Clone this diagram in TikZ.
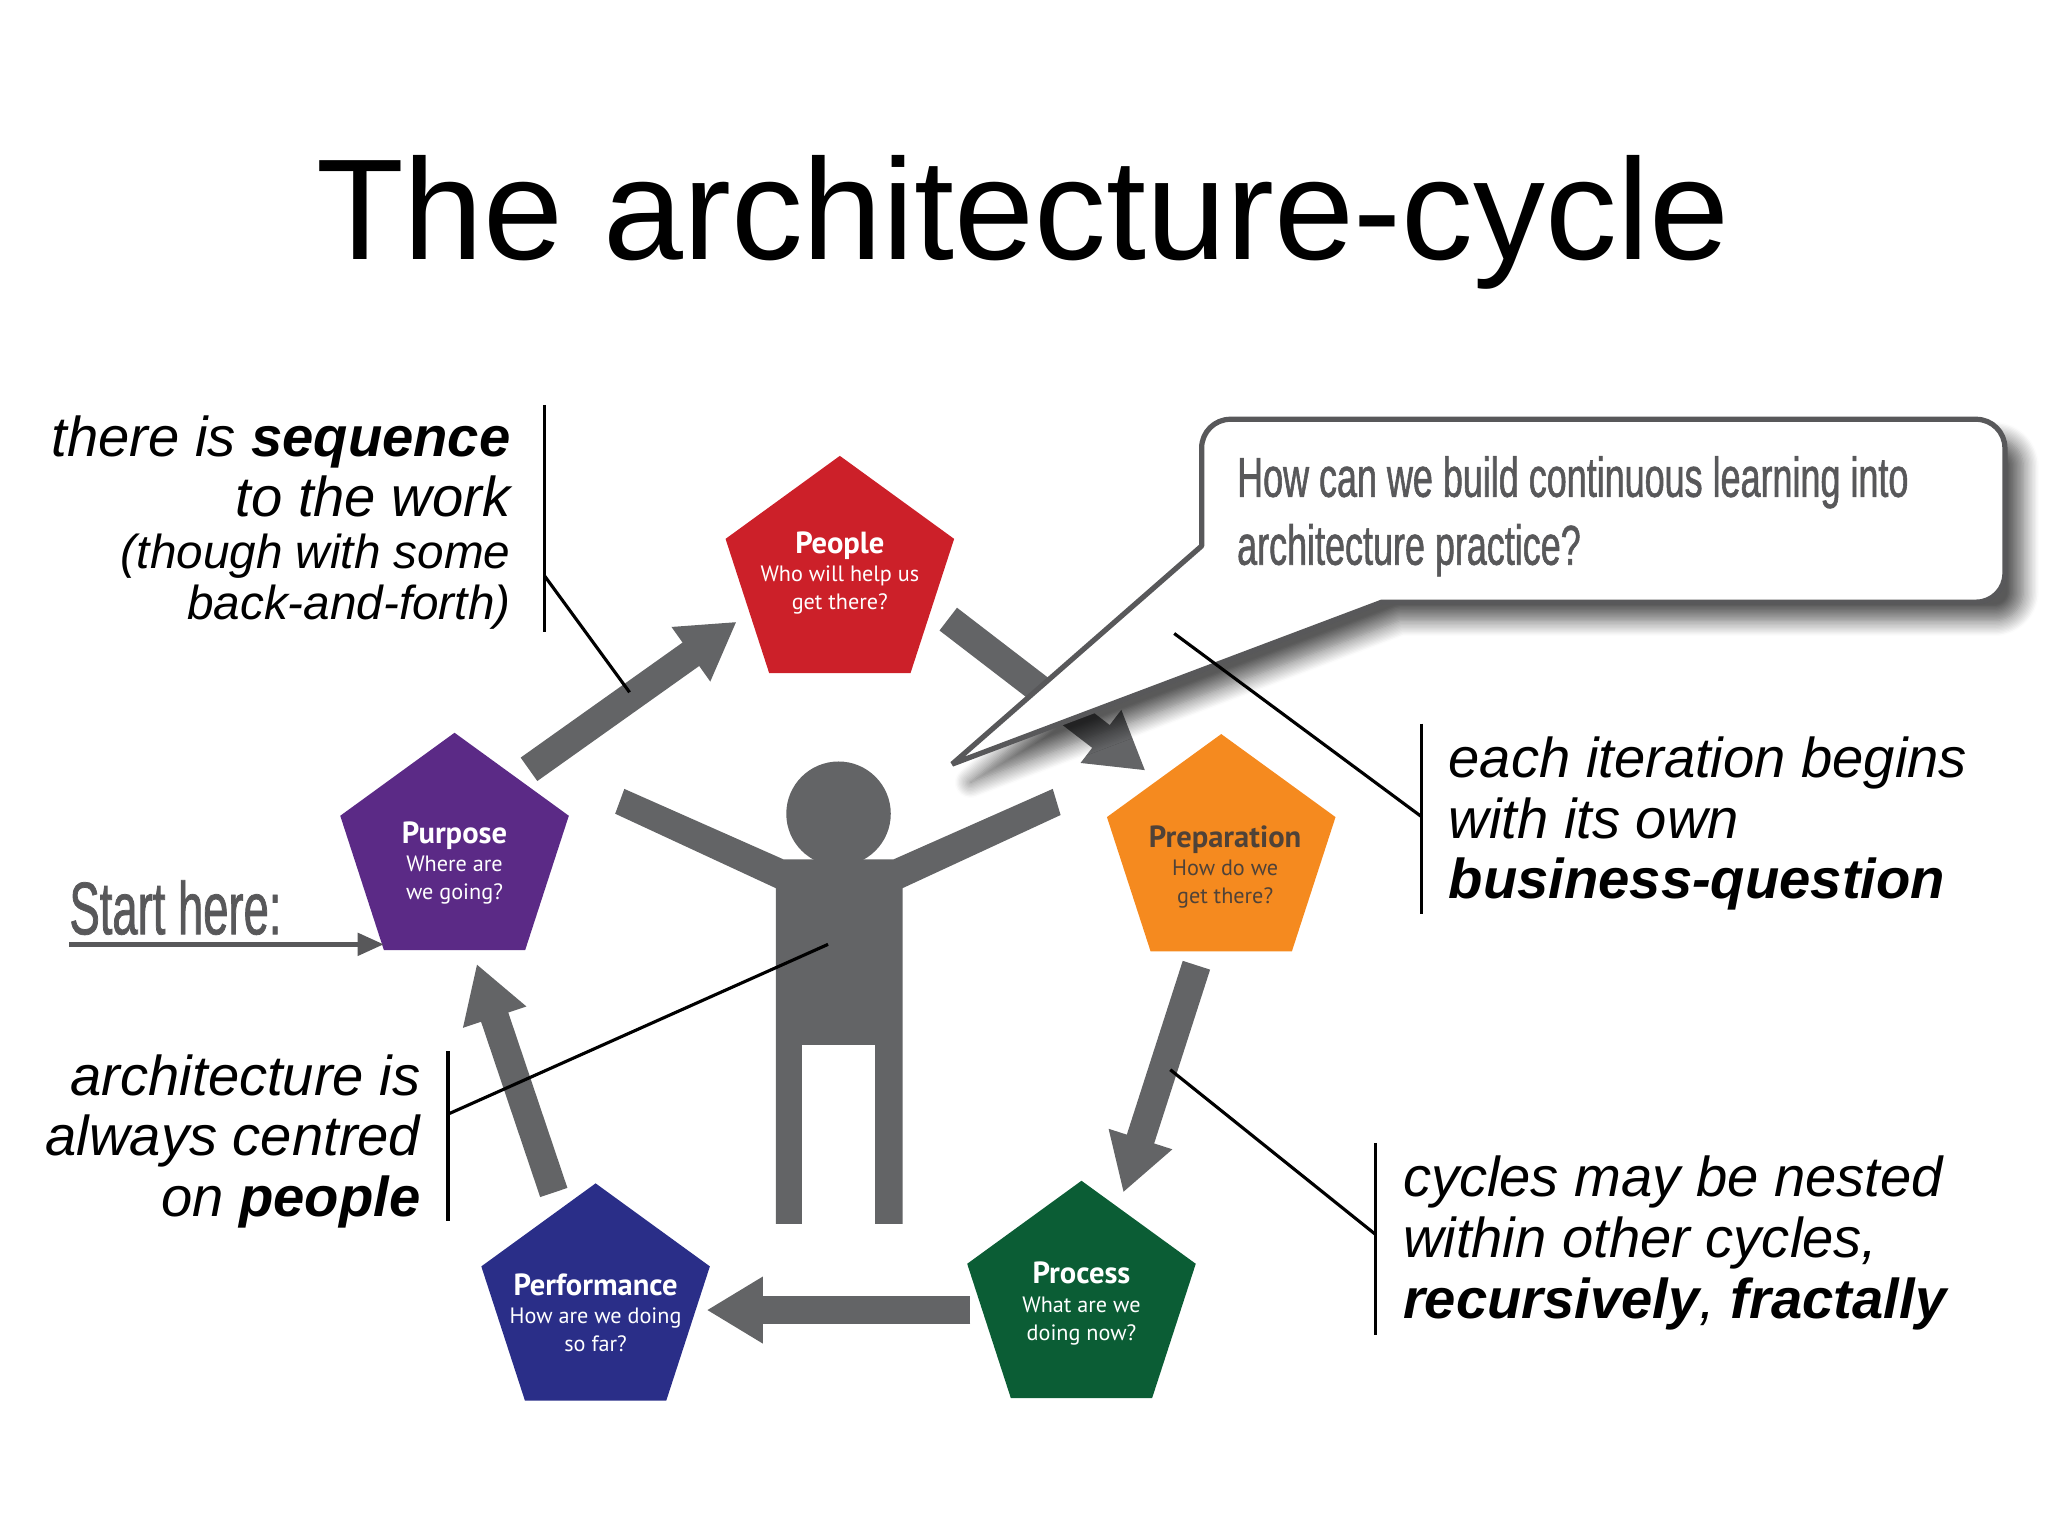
\documentclass[tikz,border=0pt]{standalone}
\usepackage{fontspec}
\setmainfont{Liberation Sans}
\newfontfamily\stagefont{PT Sans}
\newfontfamily\condfont[FakeStretch=0.64,FakeBold=1]{Liberation Sans}
\newfontfamily\startfont[FakeStretch=0.61,FakeBold=1]{Liberation Sans}
\definecolor{cycleGray}{HTML}{636466}
\definecolor{calloutGray}{HTML}{58585A}
\definecolor{stageRed}{HTML}{CC2029}
\definecolor{stageOrange}{HTML}{F58A1F}
\definecolor{stageGreen}{HTML}{0B5D35}
\definecolor{stageBlue}{HTML}{2A2E88}
\definecolor{stagePurple}{HTML}{5B2A86}
\definecolor{stageInk}{HTML}{4F4238}
\usetikzlibrary{
	arrows.meta,
	shapes.geometric,
	shadows.blur
}
\tikzset{
	stage/.style={
		regular polygon,
		regular polygon sides=5,
		minimum size=184pt,
		inner sep=0pt,
		fill=#1
	},
	stagelabel/.style={
		inner sep=0pt,
		text=white,
		align=center,
		font=\stagefont\fontsize{17}{21.5}\selectfont
	},
	nota/.style={
		align=#1,
		inner sep=0pt,
		font=\itshape\fontsize{43}{46.4}\selectfont
	},
	bloque/.style={
		-{Triangle[length=43pt,width=48pt]},
		line width=22pt,
		cycleGray
	},
	barra/.style={
		line width=2.4pt,
		black
	},
	inicio/.style={
		-{Triangle[length=20pt,width=17pt]},
		line width=3.5pt,
		calloutGray
	}
}
\newcommand{\stagetitle}[1]{{\bfseries\fontsize{23.4}{21.5}\selectfont #1}}
\begin{document}
\begin{tikzpicture}[x=1pt,y=-1pt]
	\useasboundingbox (0,0) rectangle (1568,1176);
	\node[font=\fontsize{110}{120}\selectfont] (titulo) at (783,170) {The architecture-cycle};
	% the five stages
	\node[stage=stageRed, label={[stagelabel, yshift=2pt]center:{\stagetitle{People}\\Who will help us\\get there?}}] (people) at (643,441) {};
	\node[stage=stageOrange, label={[stagelabel, text=stageInk, xshift=3pt, yshift=-10pt]center:{\stagetitle{Preparation}\\How do we\\get there?}}] (preparation) at (935,654) {};
	\node[stage=stageGreen, label={[stagelabel, yshift=-2pt]center:{\stagetitle{Process}\\What are we\\doing now?}}] (process) at (828,996) {};
	\node[stage=stageBlue, label={[stagelabel, yshift=-7pt]center:{\stagetitle{Performance}\\How are we doing\\so far?}}] (performance) at (456,998) {};
	\node[stage=stagePurple, label={[stagelabel, yshift=-8pt]center:{\stagetitle{Purpose}\\Where are\\we going?}}] (purpose) at (348,653) {};
	\draw[bloque] ([shift={(57,-64)}]purpose.center) -- ([shift={(-79,35)}]people.center);
	\draw[bloque] ([shift={(83,33)}]people.center) -- ([shift={(-58,-64)}]preparation.center);
	\draw[bloque] ([shift={(-19,85)}]preparation.center) -- ([shift={(32,-83)}]process.center);
	\draw[bloque] ([shift={(-85,7)}]process.center) -- ([shift={(85,5)}]performance.center);
	\draw[bloque] ([shift={(-32,-85)}]performance.center) -- ([shift={(17,85)}]purpose.center);
	% person in the middle
	\fill[cycleGray] (478,604) -- (600,658) -- (684,658) -- (806,604) -- (812,624) -- (691,680) -- (691,937) -- (670,937) -- (670,800) -- (614,800) -- (614,937) -- (594,937) -- (594,680) -- (471,623) -- cycle;
	\node[circle, fill=cycleGray, minimum size=80pt, inner sep=0pt] (head) at (642,623) {};
	% question
	\draw[line width=4pt, line join=bevel, draw=calloutGray, fill=white, blur shadow={shadow xshift=14pt, shadow yshift=-14pt, shadow blur radius=12pt, shadow blur steps=12, shadow opacity=65}]
		(920,418) [rounded corners=22pt] -- (920,321) -- (1535,321) -- (1535,461) [sharp corners] -- (1058,461) -- (729,585) -- cycle;
	\node[anchor=north west, align=left, text=calloutGray, inner sep=0pt, font=\condfont\fontsize{43}{52}\selectfont] (pregunta) at (947,349) {How can we build continuous learning into\\architecture practice?};
	% start
	\node[anchor=south west, inner sep=0pt, text=calloutGray, font=\startfont\fontsize{57}{60}\selectfont] (start) at (53,716) {Start here:};
	\coordinate (startline) at (53,723);
	\draw[inicio] (startline) -- (startline -| purpose.corner 3);
	% notes
	\node[nota=right, anchor=north east] (secuencia) at (391,318) {there is \textbf{sequence}\\to the work\\[-7pt]{\fontsize{36.5}{39}\selectfont (though with some}\\[-7pt]{\fontsize{36.5}{39}\selectfont back-and-forth)}};
	\node[nota=left, anchor=north west] (iteracion) at (1109,564) {each iteration begins\\with its own\\\textbf{business-question}};
	\node[nota=left, anchor=north west] (ciclos) at (1074,885) {cycles may be nested\\within other cycles,\\\textbf{recursively}, \textbf{fractally}};
	\node[nota=right, anchor=north east] (centro) at (322,807) {architecture is\\always centred\\on \textbf{people}};
	\coordinate (secuenciaA) at (417,310);
	\coordinate (secuenciaB) at (417,484);
	\coordinate (secuenciaC) at (417,441);
	\coordinate (secuenciaD) at (482,530);
	\coordinate (iteracionA) at (1088,554);
	\coordinate (iteracionB) at (1088,700);
	\coordinate (iteracionC) at (1088,625);
	\coordinate (iteracionD) at (899,485);
	\coordinate (ciclosA) at (1053,875);
	\coordinate (ciclosB) at (1053,1022);
	\coordinate (ciclosC) at (1053,945);
	\coordinate (ciclosD) at (896,819);
	\coordinate (centroA) at (343,805);
	\coordinate (centroB) at (343,935);
	\coordinate (centroC) at (343,853);
	\coordinate (centroD) at (634,723);
	\draw[barra] (secuenciaA) -- (secuenciaB);
	\draw[barra] (secuenciaC) -- (secuenciaD);
	\draw[barra] (iteracionA) -- (iteracionB);
	\draw[barra] (iteracionC) -- (iteracionD);
	\draw[barra] (ciclosA) -- (ciclosB);
	\draw[barra] (ciclosC) -- (ciclosD);
	\draw[barra] (centroA) -- (centroB);
	\draw[barra] (centroC) -- (centroD);
\end{tikzpicture}
\end{document}
